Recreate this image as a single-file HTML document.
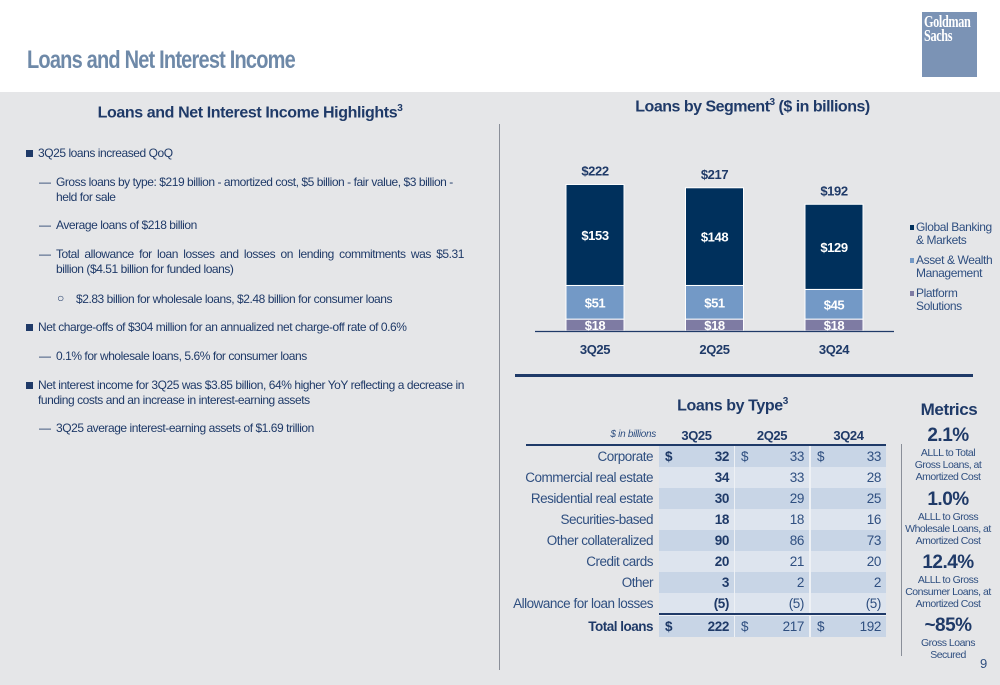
<!DOCTYPE html>
<html><head><meta charset="utf-8"><style>
*{margin:0;padding:0;box-sizing:border-box}
body{width:1000px;height:685px;position:relative;overflow:hidden;background:#e5e6e8;font-family:"Liberation Sans",sans-serif;color:#1f3a68}
.a{position:absolute}
.t{font-size:12px;letter-spacing:-0.45px;line-height:15px}
.h{font-weight:bold;color:#1f3a68}
#hdr{left:0;top:0;width:1000px;height:92px;background:#fff}
.met{position:absolute;left:898px;width:100px;text-align:center;font-size:10.5px;letter-spacing:-0.5px;line-height:12px;color:#2f4f80}
.met b{display:block;font-size:19px;line-height:22px;color:#1f3a68;letter-spacing:-0.5px}
</style></head><body>
<div id="hdr" class="a"></div>
<div class="a" style="left:27px;top:46px;font-size:25px;font-weight:bold;color:#6e89a8;letter-spacing:-1px;transform:scaleX(0.8);transform-origin:left top;white-space:nowrap">Loans and Net Interest Income</div>
<div class="a" style="left:922px;top:12px;width:55px;height:65px;background:#7b93b5;color:#fff;font-family:'Liberation Serif',serif;font-weight:bold;font-size:17px;line-height:14px;padding:3px 0 0 2px;letter-spacing:-0.5px;overflow:hidden"><div style="transform:scaleX(0.72);transform-origin:left top;white-space:nowrap">Goldman<br>Sachs</div></div>

<div class="a h" style="left:0;width:500px;text-align:center;top:103px;font-size:16px;letter-spacing:-0.4px">Loans and Net Interest Income Highlights<sup style="font-size:10px">3</sup></div>
<div class="a" style="left:499px;top:124px;width:1px;height:546px;background:#8a8f99"></div>

<div>
<div class="a" style="left:26px;top:150px;width:7px;height:7px;background:#1f3a68"></div>
<div class="a t" style="left:38px;top:146px">3Q25 loans increased QoQ</div>
<div class="a t" style="left:39px;top:175px">—</div>
<div class="a t" style="left:56px;top:175px;width:412px">Gross loans by type: $219 billion - amortized cost, $5 billion - fair value, $3 billion - held for sale</div>
<div class="a t" style="left:39px;top:218px">—</div>
<div class="a t" style="left:56px;top:218px">Average loans of $218 billion</div>
<div class="a t" style="left:39px;top:247px">—</div>
<div class="a t" style="left:56px;top:247px;width:408px;text-align:justify">Total allowance for loan losses and losses on lending commitments was $5.31 billion ($4.51 billion for funded loans)</div>
<div class="a t" style="left:57px;top:291px">○</div>
<div class="a t" style="left:76px;top:292px">$2.83 billion for wholesale loans, $2.48 billion for consumer loans</div>
<div class="a" style="left:26px;top:324px;width:7px;height:7px;background:#1f3a68"></div>
<div class="a t" style="left:38px;top:320px">Net charge-offs of $304 million for an annualized net charge-off rate of 0.6%</div>
<div class="a t" style="left:39px;top:349px">—</div>
<div class="a t" style="left:56px;top:349px">0.1% for wholesale loans, 5.6% for consumer loans</div>
<div class="a" style="left:26px;top:382px;width:7px;height:7px;background:#1f3a68"></div>
<div class="a t" style="left:38px;top:378px;width:426px;text-align:justify">Net interest income for 3Q25 was $3.85 billion, 64% higher YoY reflecting a decrease in funding costs and an increase in interest-earning assets</div>
<div class="a t" style="left:39px;top:421px">—</div>
<div class="a t" style="left:56px;top:421px">3Q25 average interest-earning assets of $1.69 trillion</div>
</div>

<div class="a h" style="left:505px;width:495px;text-align:center;top:97px;font-size:16px;letter-spacing:-0.5px">Loans by Segment<sup style="font-size:10px">3</sup> ($ in billions)</div>
<svg class="a" style="left:0;top:0" width="1000" height="380" id="chart"></svg>

<div class="a" style="left:515px;top:374px;width:458px;height:3px;background:#1f3a68"></div>

<div class="a h" style="left:600px;width:265px;text-align:center;top:396px;font-size:16px;letter-spacing:-0.4px">Loans by Type<sup style="font-size:10px">3</sup></div>
<div class="a h" style="left:900px;width:98px;text-align:center;top:400px;font-size:17px;letter-spacing:-0.4px">Metrics</div>
<div class="a" style="left:901px;top:444px;width:1px;height:212px;background:#8a8f99"></div>

<div class="a" style="left:659px;top:446px;width:227px;height:191px;background:#eef1f5"></div>
<div id="tbl"></div>

<div class="met" style="top:425px"><b>2.1%</b>ALLL to Total<br>Gross Loans, at<br>Amortized Cost</div>
<div class="met" style="top:489px"><b>1.0%</b>ALLL to Gross<br>Wholesale Loans, at<br>Amortized Cost</div>
<div class="met" style="top:552px"><b>12.4%</b>ALLL to Gross<br>Consumer Loans, at<br>Amortized Cost</div>
<div class="met" style="top:615px"><b>~85%</b>Gross Loans<br>Secured</div>
<div class="a" style="left:980px;top:656px;font-size:13px;color:#2f4f80">9</div>

<script>
const categories=["3Q25","2Q25","3Q24"];
const gbm=[153,148,129];
const awm=[51,51,45];
const plat=[18,18,18];
const totals=[222,217,192];
const seriesNames=["Global Banking & Markets","Asset & Wealth Management","Platform Solutions"];
const svg=document.getElementById('chart');
const NS='http://www.w3.org/2000/svg';
const base=331,scale=0.66,x0=566,step=119.5,bw=58;
const yv=v=>base-v*scale;
const xc=i=>x0+i*step;
function el(t,a){const e=document.createElementNS(NS,t);for(const k in a)e.setAttribute(k,a[k]);svg.appendChild(e);return e;}
function txt(x,y,s,fill,size){const e=el('text',{x:x,y:y,'text-anchor':'middle','font-size':size||13,'font-weight':'bold',fill:fill,'font-family':'Liberation Sans, sans-serif','letter-spacing':'-0.4'});e.textContent=s;return e;}
const series=[[plat,'#7e7ba3','plat'],[awm,'#7399c6','awm'],[gbm,'#00305c','gbm']];
categories.forEach((c,i)=>{
  let cum=0;
  series.forEach(([arr,col,nm])=>{
    const v=arr[i];
    const r=el('rect',{x:xc(i),y:yv(cum+v),width:bw,height:v*scale,fill:col,stroke:'#fff','stroke-width':1});
    
    
    const t=txt(xc(i)+bw/2,yv(cum+v/2)+5,'$'+v,'#fff',13);
    
    
    cum+=v;
  });
  const tt=txt(xc(i)+bw/2,yv(totals[i])-9,'$'+totals[i],'#1f3a68',13);
  
  
  const ct=txt(xc(i)+bw/2,354,c,'#1f3a68',13);
  
  
});
const ax=el('line',{x1:535,x2:894,y1:base+0.5,y2:base+0.5,stroke:'#1f3a68','stroke-width':1.2});


const leg=[["Global Banking","& Markets"],["Asset & Wealth","Management"],["Platform","Solutions"]];
const legCol=['#00305c','#7399c6','#7e7ba3'];
leg.forEach((l,i)=>{
  const y=231+i*33;
  const s=el('rect',{x:910,y:y-6,width:4,height:5,fill:legCol[i]});
  
  
  l.forEach((line,j)=>{
    const t=el('text',{x:916,y:y+j*13,'font-size':12,fill:'#2f4f80','font-family':'Liberation Sans, sans-serif','letter-spacing':'-0.4'});
    t.textContent=line;
    
    
  });
});

const rowLabels=["Corporate","Commercial real estate","Residential real estate","Securities-based","Other collateralized","Credit cards","Other","Allowance for loan losses","Total loans"];
const col3Q25=["32","34","30","18","90","20","3","(5)","222"];
const col2Q25=["33","33","29","18","86","21","2","(5)","217"];
const col3Q24=["33","28","25","16","73","20","2","(5)","192"];
const tbl=document.getElementById('tbl');
function div(css,html){const d=document.createElement('div');d.style.cssText=css;d.innerHTML=html||'';tbl.appendChild(d);return d;}
let h=div('position:absolute;left:560px;top:429px;width:96px;text-align:right;font-size:10px;font-style:italic;color:#2f4f80;letter-spacing:-0.3px','$ in billions');

const colX=[659,735,811],colW=[75,74,75],heads=["3Q25","2Q25","3Q24"];
heads.forEach((hd,j)=>{const d=div('position:absolute;left:'+colX[j]+'px;width:'+colW[j]+'px;top:428px;text-align:center;font-size:13px;font-weight:bold;letter-spacing:-0.4px;color:#1f3a68',hd);
});
let ln=div('position:absolute;left:526px;top:444px;width:360px;height:2px;background:#1f3a68');

ln=div('position:absolute;left:659px;top:613px;width:227px;height:2px;background:#1f3a68;z-index:2');

const cols=[col3Q25,col2Q25,col3Q24];
rowLabels.forEach((lab,i)=>{
  const top=446+i*21+(i==8?2:0);
  const bold=(i==8);
  const lb=div('position:absolute;left:505px;width:148px;top:'+top+'px;height:21px;line-height:21px;text-align:right;font-size:13.5px;letter-spacing:-0.5px;color:#2f4f80;'+(bold?'font-weight:bold;color:#1f3a68':''),lab);
  
  cols.forEach((col,j)=>{
    const bg=(i%2==0)?'#c8d5e6':'#dde4ee';
    const dollar=(i==0||i==8)?'<span style="position:absolute;left:6px">$</span>':'';
    const c=div('position:absolute;left:'+colX[j]+'px;width:'+colW[j]+'px;top:'+top+'px;height:21px;line-height:21px;background:'+bg+';font-size:13.5px;letter-spacing:-0.4px;text-align:right;padding-right:5px;color:'+(j==0?'#1f3a68':'#2f4f80')+';'+(j==0?'font-weight:bold':''),dollar+col[i]);
    
  });
});
</script>
</body></html>
